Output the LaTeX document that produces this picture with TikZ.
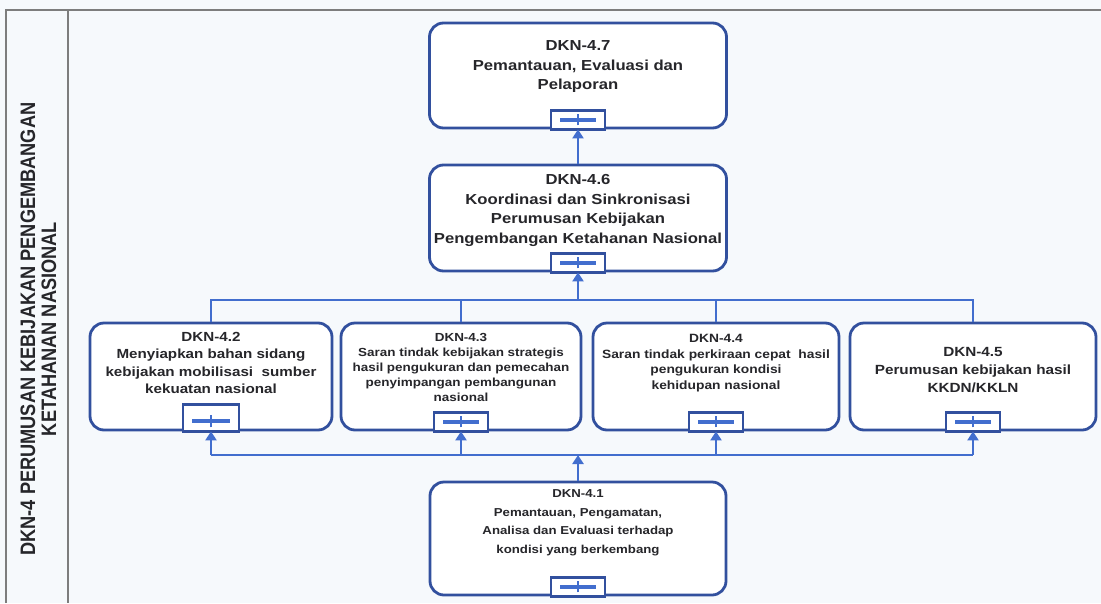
\documentclass[tikz,border=0pt]{standalone}
\usepackage{fontspec}
\setmainfont{Liberation Sans}[FakeStretch=1.15]
\newfontfamily\lblfont{Liberation Sans}
\usetikzlibrary{arrows.meta}
\definecolor{boxblue}{RGB}{50,80,158}
\definecolor{linkblue}{RGB}{66,110,206}
\definecolor{bgc}{RGB}{246,249,252}
\definecolor{framec}{RGB}{125,125,125}
\definecolor{textc}{RGB}{38,38,42}
\tikzset{
  procbox/.style={draw=boxblue, line width=2.8pt, rounded corners=14pt, fill=white, inner sep=0pt},
  txt/.style={align=center, text=textc, inner sep=0pt},
  conn/.style={draw=linkblue, line width=2.7pt},
  arr/.style={conn, -{Triangle[width=11pt,length=9pt]}},
  framel/.style={draw=framec, line width=1.1pt},
  plusbox/.pic={
    \draw[draw=boxblue, line width=2.2pt, fill=white] (-27,0) rectangle (27,19);
    \draw[draw=linkblue, line width=3.2pt] (-18,9.5) -- (18,9.5);
    \draw[draw=linkblue, line width=2.2pt] (0,4) -- (0,15);
  },
  plusboxtall/.pic={
    \draw[draw=boxblue, line width=2.2pt, fill=white] (-28,0) rectangle (28,27);
    \draw[draw=linkblue, line width=3.2pt] (-19,10.5) -- (19,10.5);
    \draw[draw=linkblue, line width=2.2pt] (0,4) -- (0,16);
  }
}
\begin{document}
\begin{tikzpicture}[x=1pt,y=1pt]
\fill[bgc] (0,0) rectangle (1101,-603);
\useasboundingbox (0,0) rectangle (1101,-603);
% frame
\draw[framel] (6,-603) -- (6,-10) -- (1101,-10);
\draw[framel] (68,-10) -- (68,-603);
\node[rotate=90, yscale=1.15, align=center, text=textc, inner sep=0pt,
      font=\lblfont\bfseries\fontsize{18.2}{18.3}\selectfont] (lbl) at (38.5,-329)
  {DKN-4 PERUMUSAN KEBIJAKAN PENGEMBANGAN\\KETAHANAN NASIONAL};

% boxes
\node[procbox, minimum width=297pt, minimum height=105pt] (b47) at (578,-75.5) {};
\node[procbox, minimum width=297pt, minimum height=106pt] (b46) at (578,-218) {};
\node[procbox, minimum width=242pt, minimum height=107pt] (b42) at (211,-376.5) {};
\node[procbox, minimum width=240pt, minimum height=107pt] (b43) at (461,-376.5) {};
\node[procbox, minimum width=246pt, minimum height=107pt] (b44) at (716,-376.5) {};
\node[procbox, minimum width=246pt, minimum height=107pt] (b45) at (973,-376.5) {};
\node[procbox, minimum width=296pt, minimum height=113pt] (b41) at (578,-538.5) {};

% texts
\node[txt, font=\bfseries\fontsize{14.5}{19.5}\selectfont] (t47) at (578,-67)
  {DKN-4.7\\Pemantauan, Evaluasi dan\\Pelaporan};
\node[txt, font=\bfseries\fontsize{14.5}{19.5}\selectfont] (t46) at (578,-210.5)
  {DKN-4.6\\Koordinasi dan Sinkronisasi\\Perumusan Kebijakan\\Pengembangan Ketahanan Nasional};
\node[txt, font=\bfseries\fontsize{13.2}{17.5}\selectfont] (t42) at (211,-363)
  {DKN-4.2\\Menyiapkan bahan sidang\\kebijakan mobilisasi\ \ sumber\\kekuatan nasional};
\node[txt, font=\bfseries\fontsize{11.7}{15}\selectfont] (t43) at (461,-367)
  {DKN-4.3\\Saran tindak kebijakan strategis\\hasil pengukuran dan pemecahan\\penyimpangan pembangunan\\nasional};
\node[txt, font=\bfseries\fontsize{12}{15.5}\selectfont] (t44) at (716,-363)
  {DKN-4.4\\Saran tindak perkiraan cepat\ \ hasil\\pengukuran kondisi\\kehidupan nasional};
\node[txt, font=\bfseries\fontsize{13.3}{18}\selectfont] (t45) at (973,-370)
  {DKN-4.5\\Perumusan kebijakan hasil\\KKDN/KKLN};
\node[txt, font=\bfseries\fontsize{11.5}{18.5}\selectfont] (t41) at (578,-523)
  {DKN-4.1\\Pemantauan, Pengamatan,\\Analisa dan Evaluasi terhadap\\kondisi yang berkembang};

% icons
\pic at (b47.south) {plusbox};
\pic at (b46.south) {plusbox};
\pic at (b42.south) {plusboxtall};
\pic at (b43.south) {plusbox};
\pic at (b44.south) {plusbox};
\pic at (b45.south) {plusbox};
\pic at (b41.south) {plusbox};

% connectors
\coordinate (tb) at (578,-300);
\coordinate (bb) at (578,-455);
\draw[arr] (b46.north) -- (b47.south);
\draw[conn] (b42.north) |- (tb) -| (b45.north);
\draw[conn] (b43.north) -- (b43.north |- tb);
\draw[conn] (b44.north) -- (b44.north |- tb);
\draw[arr] (tb) -- (b46.south);
\draw[conn] (b42.south |- bb) -- (b45.south |- bb);
\draw[arr] (b41.north) -- (bb);
\draw[arr] (b42.south |- bb) -- (b42.south);
\draw[arr] (b43.south |- bb) -- (b43.south);
\draw[arr] (b44.south |- bb) -- (b44.south);
\draw[arr] (b45.south |- bb) -- (b45.south);
\end{tikzpicture}
\end{document}
